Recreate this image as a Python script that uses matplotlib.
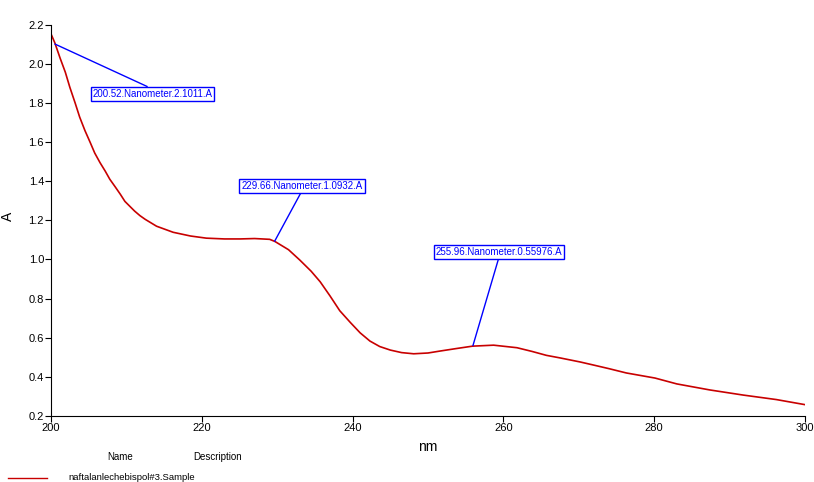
import matplotlib.pyplot as plt

# spectrum
wavelength = [200.0, 200.5, 201.2, 201.9, 202.5, 203.2, 203.8, 204.5, 205.2, 205.8,
              206.5, 207.2, 207.8, 208.5, 209.2, 209.8, 210.5, 211.1, 211.8, 212.5,
              214.0, 216.2, 218.5, 220.6, 223.0, 225.1, 227.0, 229.0, 229.7,
              231.5, 233.0, 234.5, 235.7, 237.0, 238.3, 239.7, 241.0, 242.3, 243.6,
              245.0, 246.5, 248.1, 250.0, 251.6, 253.8, 255.9, 258.7, 261.8, 263.8,
              265.7, 267.5, 270.2, 272.0, 274.0, 276.3, 280.1, 283.0, 287.4, 291.8,
              296.2, 300.0]
absorb = [2.153, 2.108, 2.030, 1.957, 1.880, 1.800, 1.728, 1.659, 1.598, 1.544,
          1.495, 1.451, 1.410, 1.372, 1.333, 1.297, 1.270, 1.247, 1.224, 1.205,
          1.170, 1.139, 1.120, 1.109, 1.105, 1.105, 1.107, 1.103, 1.092,
          1.050, 0.997, 0.940, 0.886, 0.814, 0.738, 0.678, 0.625, 0.583, 0.555,
          0.537, 0.524, 0.518, 0.522, 0.532, 0.545, 0.557, 0.562, 0.549, 0.530,
          0.510, 0.497, 0.476, 0.460, 0.442, 0.420, 0.394, 0.364, 0.333, 0.307,
          0.284, 0.258]

peak_x = [200.52, 229.66, 255.96]
peak_y = [2.1011, 1.0932, 0.55976]
peak_labels = ["200.52.Nanometer.2.1011.A", "229.66.Nanometer.1.0932.A",
               "255.96.Nanometer.0.55976.A"]
label_pos = [(213.46, 1.846), (233.29, 1.377), (259.42, 1.038)]
label_rel = [(0.5, 1.0), (0.5, 0.0), (0.5, 0.0)]

x_ticks = [200, 220, 240, 260, 280, 300]
y_ticks = [0.2, 0.4, 0.6, 0.8, 1.0, 1.2, 1.4, 1.6, 1.8, 2.0, 2.2]

narrow = ["Liberation Sans Narrow", "Liberation Sans", "DejaVu Sans"]
plt.rcParams["font.family"] = narrow

fig = plt.figure(figsize=(8.14, 4.82), dpi=100)
ax = fig.add_axes([51 / 814, 1 - 416 / 482, (805 - 51) / 814, (416 - 24.7) / 482])

ax.plot(wavelength, absorb, color="#c80000", lw=1.2)

for px, py, lab, pos, rel in zip(peak_x, peak_y, peak_labels, label_pos, label_rel):
    ax.annotate(lab, xy=(px, py), xytext=pos, color="#0000ff", fontsize=7,
                ha="center", va="center",
                bbox=dict(boxstyle="square,pad=0.2", fc="white", ec="#0000ff", lw=1),
                arrowprops=dict(arrowstyle="-", color="#0000ff", lw=1,
                                relpos=rel, shrinkA=0, shrinkB=0))

ax.set_xlim(200, 300)
ax.set_ylim(0.2, 2.2)
ax.set_xticks(x_ticks)
ax.set_yticks(y_ticks)
ax.set_xticklabels([str(v) for v in x_ticks])
ax.set_yticklabels(["%.1f" % v for v in y_ticks])
ax.tick_params(labelsize=8, length=4, width=0.8, pad=1)
ax.spines["top"].set_visible(False)
ax.spines["right"].set_visible(False)
ax.set_xlabel("nm", fontsize=10, labelpad=5)
ax.set_ylabel("A", fontsize=10)
ax.yaxis.set_label_coords(-(51 - 15) / 754, 0.51)

# legend block under the chart
fig.text(120 / 814, 1 - 457 / 482, "Name", fontsize=7, ha="center", va="center")
fig.text(218 / 814, 1 - 457 / 482, "Description", fontsize=7, ha="center", va="center")
fig.add_artist(plt.Line2D([8 / 814, 47 / 814], [1 - 478 / 482, 1 - 478 / 482],
                          color="#c80000", lw=1))
fig.text(68 / 814, 1 - 477 / 482, "naftalanlechebispol#3.Sample", fontsize=6.8,
         ha="left", va="center")

fig.savefig("out.png", dpi=100)
